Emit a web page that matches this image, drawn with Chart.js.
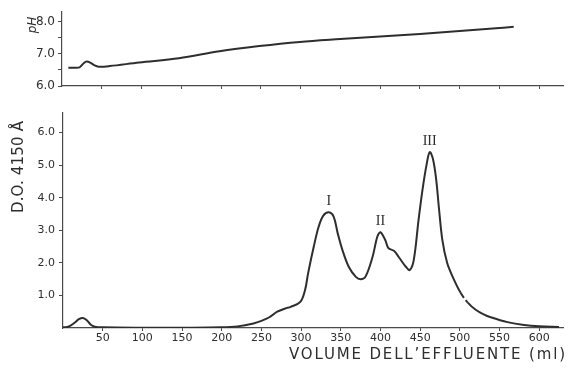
<!DOCTYPE html>
<html><head><meta charset="utf-8">
<script src="https://cdn.jsdelivr.net/npm/chart.js@4/dist/chart.umd.min.js"></script>
<style>
html,body{margin:0;padding:0;background:#fff;}
#wrap{position:relative;width:568px;height:372px;}
canvas{position:absolute;left:0;top:0;}
</style></head>
<body><div id="wrap">
<canvas id="ph" width="568" height="100"></canvas>
<canvas id="od" width="568" height="372"></canvas>
</div>
<script>
// ---- data ----
const phVolumes = [8, 15, 22, 27, 31, 36, 41, 46, 60, 97, 147, 198, 248, 299, 350, 400, 450, 500, 550, 568];
const phValues  = [6.57, 6.57, 6.58, 6.7, 6.76, 6.72, 6.64, 6.6, 6.62, 6.73, 6.86, 7.08, 7.24, 7.37, 7.46, 7.54, 7.62, 7.71, 7.8, 7.84];

const odVolumes = [0, 5, 10, 15, 20, 25, 30, 35, 40, 50, 100, 150, 200, 220, 240, 250, 260, 270, 280, 287, 299, 305, 309, 316, 322, 328, 335, 341, 346, 352, 360, 369, 375, 381, 390, 396, 400, 406, 410, 417, 423, 432, 437, 442, 448, 453, 458, 462, 466, 470, 474, 478, 484, 491, 501, 510, 520, 530, 539, 560, 581, 600, 625];
const odValues  = [0.02, 0.03, 0.08, 0.17, 0.27, 0.31, 0.24, 0.1, 0.04, 0.02, 0.01, 0.01, 0.02, 0.05, 0.14, 0.22, 0.33, 0.5, 0.6, 0.65, 0.8, 1.17, 1.7, 2.5, 3.1, 3.45, 3.55, 3.42, 2.92, 2.4, 1.88, 1.57, 1.5, 1.57, 2.18, 2.8, 2.94, 2.7, 2.45, 2.37, 2.18, 1.88, 1.78, 2.09, 3.32, 4.25, 5.0, 5.4, 5.2, 4.6, 3.6, 2.7, 2.0, 1.57, 1.08, 0.78, 0.56, 0.42, 0.33, 0.18, 0.09, 0.05, 0.03];

const peakLabels  = ['I', 'II', 'III'];
const peakVolumes = [335, 400, 462];
const peakValues  = [3.55, 2.94, 5.4];

const xTicks  = [50, 100, 150, 200, 250, 300, 350, 400, 450, 500, 550, 600];
const odTicks = [1, 2, 3, 4, 5, 6];
const phTicks = [6, 6.5, 7, 7.5, 8];

const xTitle  = "VOLUME DELL\u2019EFFLUENTE (ml)";
const odTitle = "D.O. 4150 \u00C5";
const phTitle = "pH";

// ---- styling ----
const INK = '#2e2e2e';
const AXIS = '#4a4a4a';
const TICKFONT = {family: 'DejaVu Sans', size: 11};

function pts(xs, ys) { return xs.map((x, i) => ({x: x, y: ys[i]})); }

function fitText(ctx, text, target) {
  ctx.letterSpacing = '0px';
  const w = ctx.measureText(text).width;
  const sp = (target - w) / (text.length - 1);
  ctx.letterSpacing = sp.toFixed(2) + 'px';
}

const titlesPlugin = {
  id: 'titles',
  afterDatasetsDraw(chart) {
    const ctx = chart.ctx;
    const xs = chart.scales.x, ys = chart.scales.y;
    ctx.save();
    ctx.fillStyle = INK;
    ctx.font = '14px "Liberation Serif"';
    ctx.textAlign = 'center';
    ctx.textBaseline = 'alphabetic';
    peakLabels.forEach((t, i) => {
      ctx.fillText(t, xs.getPixelForValue(peakVolumes[i]), ys.getPixelForValue(peakValues[i]) - 7);
    });
    ctx.font = '15px "DejaVu Sans"';
    fitText(ctx, xTitle, 276);
    ctx.textAlign = 'left';
    ctx.textBaseline = 'middle';
    ctx.fillText(xTitle, 289, 355);
    ctx.translate(19, 167);
    ctx.rotate(-Math.PI / 2);
    ctx.font = '15px "DejaVu Sans"';
    fitText(ctx, odTitle, 92);
    ctx.textAlign = 'center';
    ctx.fillText(odTitle, 0, 0);
    ctx.restore();
  }
};

const phTitlePlugin = {
  id: 'phtitle',
  afterDraw(chart) {
    const ctx = chart.ctx;
    ctx.save();
    ctx.fillStyle = INK;
    ctx.translate(33, 25);
    ctx.rotate(-Math.PI / 2);
    ctx.font = 'italic 12px "DejaVu Sans"';
    ctx.textAlign = 'center';
    ctx.textBaseline = 'middle';
    ctx.fillText(phTitle, 0, 0);
    ctx.restore();
  }
};

Chart.defaults.animation = false;
Chart.defaults.color = INK;

new Chart(document.getElementById('ph'), {
  type: 'line',
  data: {datasets: [{data: pts(phVolumes, phValues), borderColor: INK, borderWidth: 2, pointRadius: 0, tension: 0.35, fill: false}]},
  options: {
    responsive: false,
    layout: {padding: {left: 0, top: 12, right: 5, bottom: 0}},
    plugins: {legend: {display: false}, tooltip: {enabled: false}},
    scales: {
      x: {type: 'linear', min: 0, max: 630,
        afterBuildTicks: s => { s.ticks = xTicks.map(v => ({value: v})); },
        afterFit: s => { s.height = 14; },
        ticks: {display: false},
        grid: {drawOnChartArea: false, tickLength: 3, color: AXIS},
        border: {color: AXIS, width: 1.2}},
      y: {min: 6, max: 8.3,
        afterBuildTicks: s => { s.ticks = phTicks.map(v => ({value: v})); },
        afterFit: s => { s.width = 62; },
        ticks: {font: {family: 'DejaVu Sans', size: 12}, padding: 3, color: INK,
          callback: v => (Number.isInteger(v) ? v.toFixed(1) : '')},
        grid: {drawOnChartArea: false, tickLength: 4, color: AXIS},
        border: {color: AXIS, width: 1.2}}
    }
  },
  plugins: [phTitlePlugin]
});

new Chart(document.getElementById('od'), {
  type: 'line',
  data: {datasets: [{data: pts(odVolumes, odValues), borderColor: INK, borderWidth: 2, pointRadius: 0, tension: 0.35, fill: false,
    segment: {borderDash: c => (c.p0.parsed.x === 501 ? [6, 3] : undefined)}}]},
  options: {
    responsive: false,
    layout: {padding: {left: 0, top: 113, right: 5, bottom: 0}},
    plugins: {legend: {display: false}, tooltip: {enabled: false}},
    scales: {
      x: {type: 'linear', min: 0, max: 630,
        afterBuildTicks: s => { s.ticks = xTicks.map(v => ({value: v})); },
        afterFit: s => { s.height = 44; },
        ticks: {font: TICKFONT, padding: 1, color: INK, maxRotation: 0, autoSkip: false},
        grid: {drawOnChartArea: false, tickLength: 3, color: AXIS},
        border: {color: AXIS, width: 1.2}},
      y: {min: 0, max: 6.6,
        afterBuildTicks: s => { s.ticks = odTicks.map(v => ({value: v})); },
        afterFit: s => { s.width = 63; },
        ticks: {font: TICKFONT, padding: 4, color: INK, callback: v => v.toFixed(1)},
        grid: {drawOnChartArea: false, tickLength: 4, color: AXIS},
        border: {color: AXIS, width: 1.2}}
    }
  },
  plugins: [titlesPlugin]
});
</script>
</body></html>
